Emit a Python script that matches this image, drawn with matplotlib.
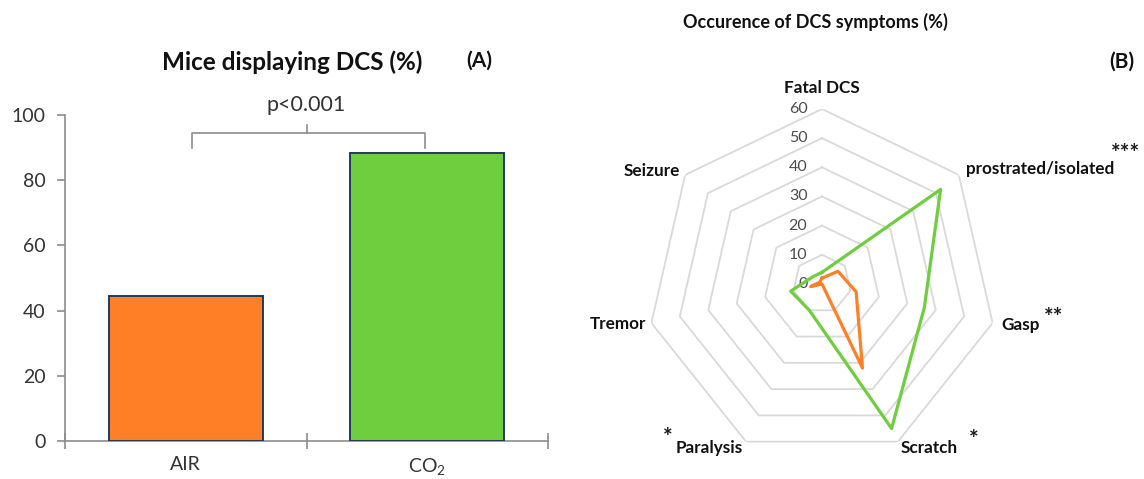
import numpy as np
import matplotlib
matplotlib.use("Agg")
import matplotlib.pyplot as plt

plt.rcParams["font.family"] = ["Lato", "DejaVu Sans"]
plt.rcParams["mathtext.fontset"] = "custom"
plt.rcParams["mathtext.rm"] = "Lato"
plt.rcParams["mathtext.it"] = "Lato:italic"

# (A) share of mice with DCS
groups = ["AIR", "CO$_2$"]
dcs_pct = [44.4, 88.2]

# (B) occurrence of each symptom (%)
symptoms = ["Fatal DCS", "prostrated/isolated", "Gasp", "Scratch",
            "Paralysis", "Tremor", "Seizure"]
air_pct = [2, 7, 12, 32, 0, 4, 1]
co2_pct = [4, 52, 36, 55, 10, 11, 4]
stars = ["", "***", "**", "*", "*", "", ""]
rings = [10, 20, 30, 40, 50, 60]

ORANGE = "#FF7F27"
GREEN = "#6ECE3E"
EDGE = "#1F3A5F"
AXIS = "#8C8C8C"
W, H = 1144, 479

fig = plt.figure(figsize=(W / 100, H / 100), dpi=100)


def px(x, y):
    return x / W, 1 - y / H


# ---- bar chart ----
ax = fig.add_axes([65 / W, 1 - 441 / H, 483 / W, 326 / H])
x = np.arange(len(groups))
ax.bar(x, dcs_pct, width=0.636, color=[ORANGE, GREEN],
       edgecolor=EDGE, linewidth=1.4, zorder=3)
ax.set_xlim(-0.5, 1.5)
ax.set_ylim(0, 100)
ax.set_yticks(range(0, 101, 20))
ax.tick_params(axis="y", direction="out", length=6, width=1.2, color=AXIS,
               labelsize=14, labelcolor="#333333", pad=8)
ax.set_xticks([-0.5, 0.5, 1.5])
ax.set_xticklabels([])
ax.tick_params(axis="x", which="major", direction="inout", length=12,
               width=1.2, color=AXIS)
ax.set_xticks(x, minor=True)
ax.set_xticklabels(groups, minor=True)
ax.tick_params(axis="x", which="minor", length=0, labelsize=14,
               labelcolor="#333333", pad=11)
for s in ["top", "right"]:
    ax.spines[s].set_visible(False)
for s in ["left", "bottom"]:
    ax.spines[s].set_color(AXIS)
    ax.spines[s].set_linewidth(1.2)

# significance bracket
ax.plot([0.025, 0.025, 0.99, 0.99], [90, 94.5, 94.5, 90],
        color=AXIS, lw=1.2, clip_on=False)
ax.plot([0.5, 0.5], [94.5, 97], color=AXIS, lw=1.2, clip_on=False)
ax.text(0.5, 103, "p<0.001", ha="center", va="center", fontsize=15.5,
        color="#333333", clip_on=False)

fig.text(*px(292, 62), "Mice displaying DCS (%)", ha="center", va="center",
         fontsize=17.5, fontweight="bold", color="#111111")
fig.text(*px(479, 61), "(A)", ha="center", va="center",
         fontsize=15, fontweight="bold", color="#111111")

# ---- radar chart ----
rax = fig.add_axes([(822 - 175) / W, 1 - (284 + 175) / H, 350 / W, 350 / H],
                   projection="polar")
rax.set_theta_zero_location("N")
rax.set_theta_direction(-1)
rax.set_ylim(0, 60)
rax.grid(False)
rax.spines["polar"].set_visible(False)
rax.set_xticks([])
rax.set_yticks([])
rax.patch.set_alpha(0)

theta = np.linspace(0, 2 * np.pi, len(symptoms), endpoint=False)
th_closed = np.append(theta, theta[0])
for r in rings:
    rax.plot(th_closed, [r] * len(th_closed), color="#D9D9D9", lw=1.3,
             zorder=1)
for v in [0] + rings:
    rax.annotate(str(v), xy=(0, v), xytext=(-10.5, 0),
                 textcoords="offset points", ha="right", va="center",
                 fontsize=11.5, color="#4D4D4D", annotation_clip=False)

rax.plot(th_closed, np.append(air_pct, air_pct[0]), color=ORANGE, lw=2.3,
         zorder=3)
rax.plot(th_closed, np.append(co2_pct, co2_pct[0]), color=GREEN, lw=2.3,
         zorder=3)

label_pos = [(67.2, "center"), (63, "left"), (63, "left"), (62.4, "left"),
             (62.4, "right"), (62, "right"), (62.4, "right")]
for t, name, (r, ha) in zip(theta, symptoms, label_pos):
    rax.text(t, r, name, ha=ha, va="center", fontsize=12.3,
             fontweight="bold", color="#111111", clip_on=False)

# significance marks next to the symptom names
star_px = {1: (1111, 148, "left"), 2: (1044, 312, "left"),
           3: (974, 434, "center"), 4: (668, 432, "center")}
for i, (sx, sy, ha) in star_px.items():
    fig.text(*px(sx, sy + 12), stars[i], ha=ha, va="baseline", fontsize=16.5,
             fontweight="bold", color="#1A1A1A")

fig.text(*px(815, 22), "Occurence of DCS symptoms (%)", ha="center",
         va="center", fontsize=13, fontweight="bold", color="#111111")
fig.text(*px(1122, 62), "(B)", ha="center", va="center", fontsize=15,
         fontweight="bold", color="#111111")

fig.savefig("out.png", dpi=100)
